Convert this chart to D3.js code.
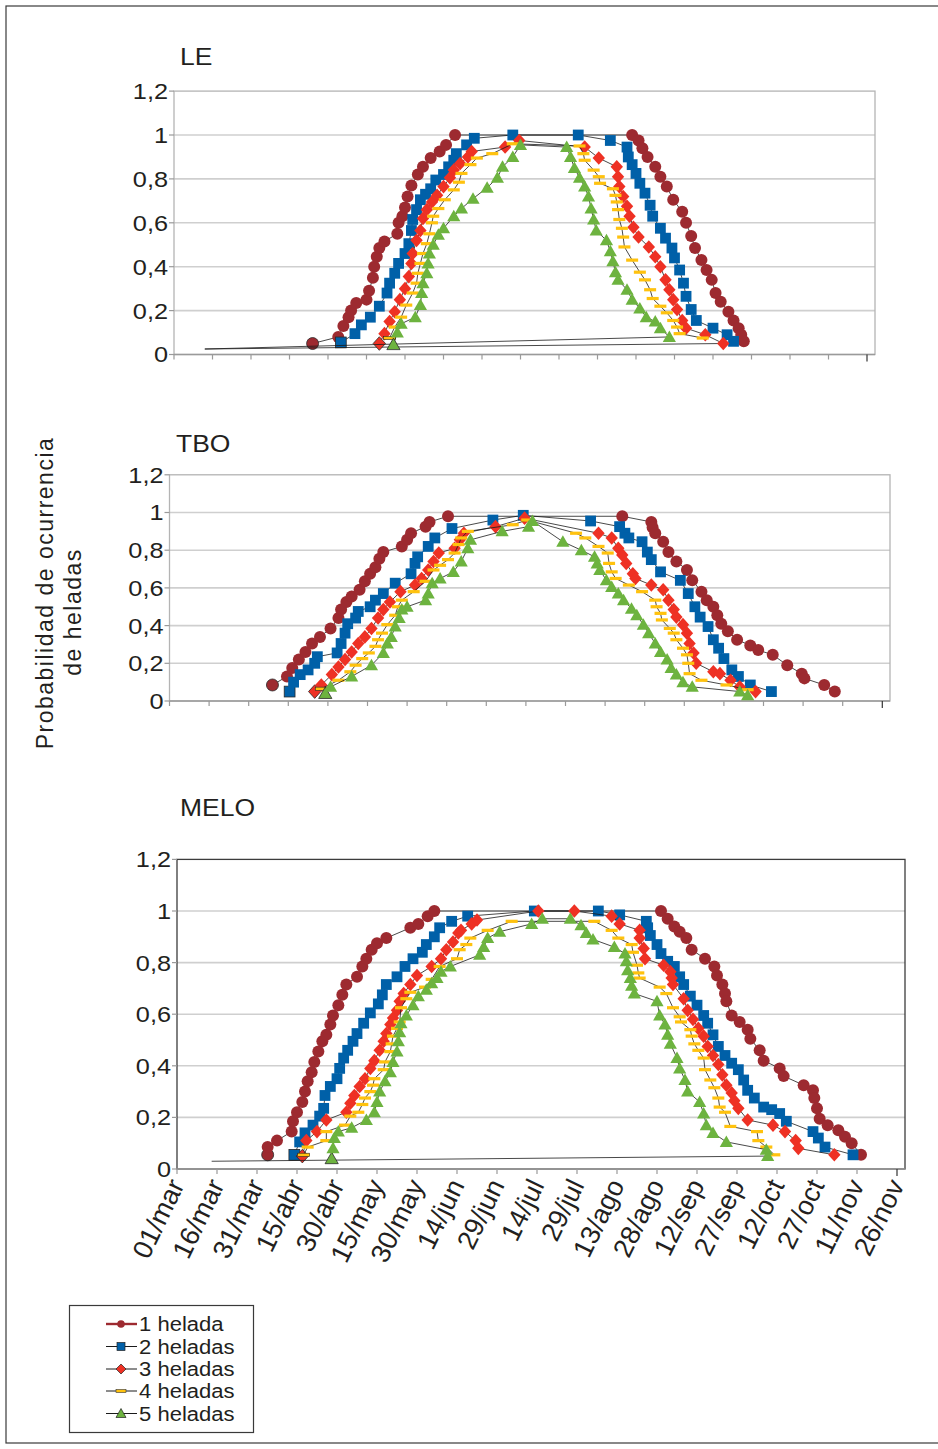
<!DOCTYPE html>
<html><head><meta charset="utf-8">
<script src="https://cdn.jsdelivr.net/npm/d3@7"></script>
<style>
body{margin:0;background:#fff}
svg{display:block}
text{font-family:"Liberation Sans",Arial,Helvetica,sans-serif;fill:#231f20}
</style>
</head><body>
<svg id="c" width="938" height="1449"></svg>
<script>
// ---------- DATA (x = days since 01/mar, y = probability) ----------
const seriesNames = ["1 helada","2 heladas","3 heladas","4 heladas","5 heladas"];
const xTickLabels = ["01/mar","16/mar","31/mar","15/abr","30/abr","15/may","30/may","14/jun","29/jun","14/jul","29/jul","13/ago","28/ago","12/sep","27/sep","12/oct","27/oct","11/nov","26/nov"];
const xTickDays = [0,15,30,45,60,75,90,105,120,135,150,165,180,195,210,225,240,255,270];
const yTickValues = [0,0.2,0.4,0.6,0.8,1,1.2];
const yTickLabels = ["0","0,2","0,4","0,6","0,8","1","1,2"];
const panelTitles = ["LE","TBO","MELO"];

// LE
const le1 = [[54,0.05],[64,0.08],[66,0.13],[68,0.17],[69,0.2],[71,0.235],[75,0.25],[76,0.29],[77.5,0.35],[78,0.4],[79,0.445],[80,0.485],[82,0.515],[87,0.55],[87.5,0.6],[89,0.63],[90,0.67],[91,0.72],[92.5,0.77],[95,0.82],[97,0.855],[100,0.895],[103.5,0.925],[106,0.955],[109.5,1.0],
  [178.5,1.0],[181,0.975],[182.5,0.94],[184.5,0.9],[187.5,0.855],[189.5,0.81],[192,0.765],[194.5,0.705],[198,0.65],[199.5,0.6],[201.5,0.54],[203,0.485],[205.5,0.43],[207.5,0.385],[209.5,0.34],[211,0.28],[213,0.24],[216,0.195],[218,0.155],[220,0.12],[221,0.09],[222,0.06]];
const le2 = [[65,0.055],[70.5,0.095],[73,0.135],[76.5,0.17],[80,0.22],[83,0.28],[84,0.325],[86,0.37],[87.5,0.415],[90,0.46],[91.5,0.505],[92.5,0.565],[93,0.615],[94.5,0.66],[96,0.705],[98,0.73],[100,0.755],[102,0.795],[105,0.82],[107,0.855],[109,0.885],[110,0.915],[114,0.955],[117,0.985],[132,1.0],
  [157.5,1.0],[170,0.975],[176.5,0.945],[177,0.9],[178.5,0.865],[180,0.825],[181.5,0.78],[183.5,0.735],[185.5,0.68],[186.5,0.63],[189.5,0.575],[191.5,0.53],[194,0.485],[195,0.44],[197,0.385],[198.5,0.325],[199.5,0.265],[201.5,0.205],[203.5,0.155],[210,0.12],[215.5,0.09],[218,0.06]];
const le3 = [[80,0.05],[82,0.095],[84,0.15],[86,0.195],[88,0.25],[90,0.3],[91.5,0.355],[92.5,0.415],[93,0.46],[94.5,0.52],[96,0.565],[97,0.62],[98.5,0.66],[100.5,0.695],[102.5,0.725],[105,0.765],[107.5,0.805],[109,0.84],[111.5,0.87],[114.5,0.9],[116,0.925],[129,0.945],[134.5,0.975],
  [160,0.945],[165.5,0.895],[172.5,0.855],[173,0.81],[173.5,0.765],[175,0.72],[176.5,0.675],[177.5,0.63],[179,0.58],[181,0.535],[185,0.49],[187.5,0.445],[189.5,0.4],[191.5,0.34],[193,0.295],[194.5,0.25],[196,0.205],[198,0.155],[199.5,0.12],[207,0.09],[214,0.05]];
const le4 = [[84,0.075],[86,0.125],[88.5,0.17],[90.5,0.225],[93,0.28],[94.5,0.325],[95,0.37],[96,0.415],[97,0.46],[98.5,0.505],[99.5,0.55],[100.5,0.6],[101,0.63],[103,0.665],[105.5,0.705],[109,0.75],[111,0.785],[112,0.825],[115.5,0.865],[118,0.895],[124,0.915],[132,0.96],
  [158,0.95],[159.5,0.915],[160,0.885],[163.5,0.84],[165.5,0.81],[166,0.78],[171,0.755],[172,0.725],[172.5,0.695],[173,0.66],[173.5,0.615],[174.5,0.575],[175,0.535],[175.5,0.49],[178.5,0.43],[181.5,0.375],[183.5,0.34],[185.5,0.295],[186.5,0.255],[189.5,0.22],[192,0.19],[194.5,0.155],[196,0.125],[197,0.095],[206,0.075]];
const le5 = [[85.5,0.045],[87,0.1],[88.5,0.14],[94,0.17],[96,0.225],[96.5,0.28],[97,0.325],[98.5,0.37],[99,0.415],[99.5,0.46],[101,0.5],[103,0.545],[105,0.575],[109,0.63],[112,0.665],[116.5,0.71],[122,0.76],[126,0.805],[128,0.855],[132,0.9],[135,0.955],
  [153,0.945],[154.5,0.9],[156,0.85],[158,0.805],[160,0.765],[161.5,0.72],[162.5,0.665],[163.5,0.615],[164.5,0.565],[168.5,0.52],[170,0.47],[171,0.425],[172,0.375],[173,0.34],[176.5,0.295],[178.5,0.25],[181.5,0.21],[184,0.17],[187.5,0.15],[189.5,0.12],[193,0.08]];
const leAnchor = [12,0.025];

// TBO
const tbo1 = [[39,0.085],[44.5,0.13],[46.5,0.175],[49,0.22],[51.5,0.26],[54,0.305],[57,0.34],[61,0.385],[64,0.44],[65,0.485],[67,0.525],[69,0.555],[72,0.59],[74,0.635],[76,0.675],[78,0.71],[79.5,0.755],[81,0.79],[88,0.82],[90,0.855],[91.5,0.89],[97,0.925],[98.5,0.95],[105.5,0.98],
  [171.5,0.98],[182.5,0.95],[183,0.92],[184,0.89],[187,0.845],[189,0.79],[192,0.74],[196,0.695],[198,0.64],[201.5,0.58],[203.5,0.535],[206,0.5],[207.5,0.455],[209,0.41],[211.5,0.37],[215,0.325],[220,0.295],[223,0.27],[228.5,0.245],[234,0.19],[239.5,0.145],[240.5,0.12],[248,0.085],[252,0.05]];
const tbo2 = [[45.5,0.05],[47,0.1],[49.5,0.14],[52.5,0.165],[55,0.2],[56,0.235],[63.5,0.255],[65,0.305],[66.5,0.36],[67.5,0.41],[70.5,0.44],[71.5,0.475],[76,0.5],[78,0.535],[81,0.57],[85.5,0.625],[91.5,0.675],[93,0.73],[94,0.765],[98,0.82],[100.5,0.865],[107,0.915],[122.5,0.96],[134,0.985],
  [159.5,0.955],[170.5,0.925],[172.5,0.89],[174,0.865],[179,0.845],[181,0.79],[182.5,0.75],[186,0.685],[193.5,0.64],[196.5,0.57],[199,0.5],[201,0.445],[204,0.395],[206,0.325],[208,0.28],[210,0.225],[213,0.165],[215.5,0.13],[220,0.085],[228,0.05]];
const tbo3 = [[55,0.05],[57.5,0.085],[61.5,0.14],[64,0.18],[66.5,0.22],[69,0.26],[71.5,0.305],[74,0.34],[76.5,0.385],[79,0.44],[81,0.485],[83.5,0.525],[87.5,0.58],[93,0.615],[95.5,0.65],[98,0.695],[100,0.74],[102,0.785],[108,0.81],[110,0.855],[111.5,0.89],[123.5,0.925],[134.5,0.97],
  [162.5,0.89],[167.5,0.865],[170,0.81],[171.5,0.775],[173,0.73],[175.5,0.675],[176.5,0.65],[182.5,0.615],[187,0.59],[189,0.535],[191,0.485],[192,0.445],[194.5,0.405],[196,0.36],[197,0.305],[198.5,0.255],[199.5,0.2],[206,0.155],[208.5,0.145],[212.5,0.11],[216,0.075],[222,0.05]];
const tbo4 = [[57.5,0.065],[64,0.11],[68.5,0.155],[70.5,0.19],[73,0.225],[75.5,0.255],[78,0.29],[79,0.325],[80.5,0.36],[82.5,0.405],[85.5,0.455],[86.5,0.5],[88,0.535],[92.5,0.58],[97,0.635],[100,0.695],[102.5,0.72],[105.5,0.75],[108,0.785],[109.5,0.83],[110.5,0.865],[113,0.9],[130,0.935],[135.5,0.96],
  [154,0.89],[157.5,0.865],[162.5,0.82],[166,0.785],[166.5,0.73],[167.5,0.685],[169,0.65],[174,0.615],[179,0.58],[184,0.535],[184.5,0.5],[186,0.465],[186.5,0.43],[189.5,0.385],[191,0.36],[192,0.325],[194.5,0.28],[196,0.245],[196.5,0.2],[197,0.145],[201.5,0.11],[211,0.085],[219,0.06]];
const tbo5 = [[59,0.04],[61,0.075],[69,0.13],[76.5,0.19],[81,0.255],[82.5,0.305],[84,0.34],[85.5,0.395],[87,0.44],[88,0.485],[90,0.5],[97,0.535],[98,0.57],[99.5,0.625],[102.5,0.65],[107.5,0.685],[110.5,0.74],[113,0.81],[114,0.855],[126,0.9],[136,0.925],[137.5,0.955],
  [149,0.845],[156,0.8],[161,0.765],[162,0.73],[163,0.695],[165.5,0.64],[167.5,0.605],[170,0.57],[172,0.535],[175,0.49],[177,0.455],[179.5,0.405],[181.5,0.36],[184,0.305],[186,0.26],[188.5,0.22],[190,0.175],[192,0.14],[194.5,0.1],[198,0.075],[216,0.05],[219,0.03]];

// MELO
const melo1 = [[34,0.055],[34,0.085],[37.5,0.11],[43,0.145],[43.5,0.185],[45,0.22],[47,0.26],[48,0.3],[49,0.34],[50.5,0.375],[51.5,0.415],[53,0.455],[54.5,0.495],[56,0.52],[57.5,0.56],[58.5,0.595],[60.5,0.635],[62,0.675],[63.5,0.715],[67.5,0.745],[69.5,0.785],[71,0.815],[73,0.85],[75,0.875],[78.5,0.895],[87.5,0.935],[90.5,0.95],[94,0.98],[96.5,1.0],
  [181.5,1.0],[184,0.97],[186.5,0.94],[188.5,0.92],[191,0.895],[193,0.85],[198,0.815],[201.5,0.785],[202.5,0.75],[204.5,0.715],[205.5,0.68],[206,0.65],[208,0.595],[211,0.57],[214,0.54],[215,0.505],[218.5,0.46],[220,0.42],[226,0.39],[227.5,0.36],[235,0.325],[238.5,0.305],[239,0.275],[240,0.235],[241,0.195],[244,0.17],[248,0.15],[250.5,0.125],[253,0.1],[256.5,0.055]];
const melo2 = [[44,0.055],[46,0.105],[48,0.14],[51,0.17],[53.5,0.205],[55,0.235],[55.5,0.285],[57.5,0.32],[60,0.35],[61,0.39],[62.5,0.43],[64,0.46],[66,0.495],[67.5,0.525],[70,0.565],[72.5,0.605],[75.5,0.64],[77,0.675],[78.5,0.715],[82.5,0.745],[85.5,0.785],[88.5,0.815],[92,0.84],[93.5,0.87],[96.5,0.9],[98.5,0.935],[103,0.96],[109,0.98],[134,1.0],
  [158,1.0],[166,0.985],[176,0.96],[176.5,0.935],[177.5,0.905],[180,0.87],[181.5,0.835],[184,0.805],[186.5,0.785],[188.5,0.745],[190,0.715],[192.5,0.67],[195,0.635],[197.5,0.595],[199,0.565],[201,0.52],[203,0.475],[205.5,0.44],[208,0.41],[210.5,0.385],[212.5,0.345],[214,0.305],[216.5,0.275],[220,0.24],[223,0.23],[226,0.215],[228.5,0.185],[238.5,0.145],[240.5,0.12],[243,0.085],[253.5,0.055]];
const melo3 = [[47,0.05],[48.5,0.11],[52.5,0.145],[56,0.19],[63.5,0.22],[65,0.255],[66.5,0.285],[68.5,0.32],[70.5,0.35],[72.5,0.39],[74,0.42],[76,0.46],[77.5,0.495],[78.5,0.525],[80,0.56],[81,0.585],[82.5,0.615],[83.5,0.65],[85,0.68],[87.5,0.715],[90,0.75],[95.5,0.785],[99,0.815],[101,0.85],[103.5,0.88],[105.5,0.915],[106.5,0.925],[110.5,0.95],[112.5,0.965],[135.5,1.0],
  [149,1.0],[163,0.98],[166,0.95],[173.5,0.925],[173.5,0.895],[175,0.855],[175.5,0.815],[182.5,0.79],[185,0.765],[185.5,0.74],[186,0.715],[190,0.66],[191.5,0.615],[193.5,0.58],[195.5,0.545],[197.5,0.515],[199,0.475],[201,0.44],[203,0.405],[204.5,0.365],[206,0.325],[208,0.295],[209,0.265],[210.5,0.235],[214,0.19],[223.5,0.17],[228,0.145],[232,0.11],[233,0.08],[246.5,0.055]];
const melo4 = [[47.5,0.055],[49,0.085],[56,0.11],[56,0.145],[63,0.17],[65,0.205],[68,0.22],[69.5,0.25],[70.5,0.275],[72.5,0.3],[73.5,0.325],[74,0.35],[77.5,0.385],[78,0.415],[80,0.455],[80.5,0.485],[81,0.515],[82.5,0.545],[83.5,0.57],[84,0.625],[86,0.66],[87.5,0.685],[93,0.705],[95.5,0.735],[98.5,0.785],[105,0.815],[106,0.85],[108.5,0.87],[110,0.895],[116.5,0.925],[125.5,0.96],
  [156.5,0.96],[163,0.925],[165.5,0.895],[170.5,0.87],[171,0.84],[172.5,0.79],[173,0.76],[173.5,0.74],[181,0.705],[183.5,0.68],[186,0.625],[188.5,0.59],[189,0.57],[192.5,0.54],[193,0.515],[194,0.485],[195.5,0.46],[197.5,0.43],[198,0.385],[200,0.345],[201.5,0.315],[203,0.275],[203.5,0.24],[205.5,0.22],[207.5,0.165],[217.5,0.145],[218,0.11],[221,0.085],[224,0.055]];
const melo5 = [[58,0.04],[58.5,0.08],[59,0.12],[60.5,0.145],[65.5,0.16],[71,0.19],[74,0.22],[75,0.26],[76,0.3],[78,0.34],[80,0.375],[81,0.415],[82.5,0.455],[83,0.495],[83.5,0.53],[84,0.565],[86,0.595],[88.5,0.635],[90.5,0.67],[93.5,0.695],[95.5,0.72],[97.5,0.74],[99,0.765],[102.5,0.785],[113.5,0.83],[115,0.86],[116.5,0.895],[121,0.92],[133,0.95],[137,0.97],
  [147.5,0.97],[151.5,0.945],[153.5,0.915],[156,0.89],[164,0.86],[168,0.835],[168.5,0.805],[169,0.77],[170,0.74],[170.5,0.71],[171.5,0.68],[180,0.65],[181,0.595],[183,0.56],[184,0.52],[185,0.485],[187.5,0.43],[188.5,0.39],[190.5,0.345],[191.5,0.3],[196,0.26],[197.5,0.215],[198.5,0.17],[201,0.14],[206,0.105],[221,0.075],[221.5,0.05]];
const meloAnchor = [13,0.03];

// ---------- DRAWING ----------
const colors = ["#9d2a30","#0060a8","#ee3124","#ffc20e","#6db33f"];
const svg = d3.select("#c");
const W = 938, H = 1449;

function widen(sel, f) {
  sel.each(function(){
    const len = this.getComputedTextLength();
    d3.select(this).attr("textLength", len*f).attr("lengthAdjust","spacingAndGlyphs");
  });
}

svg.append("rect").attr("x",6).attr("y",6).attr("width",W+20).attr("height",H-12)
  .attr("fill","none").attr("stroke","#3a3a3a").attr("stroke-width",1.2);

function marker(g, k, px, py, first) {
  const c = colors[k];
  const st = first ? "#2a2a2a" : "none";
  if (k===0) {
    g.append("circle").attr("cx",px).attr("cy",py).attr("r",6).attr("fill",c).attr("stroke",st).attr("stroke-width",0.8);
  } else if (k===1) {
    g.append("rect").attr("x",px-5.4).attr("y",py-5.4).attr("width",10.8).attr("height",10.8).attr("fill",c).attr("stroke",st).attr("stroke-width",0.8);
  } else if (k===2) {
    g.append("path").attr("d",`M${px},${py-6.8}L${px+6.2},${py}L${px},${py+6.8}L${px-6.2},${py}Z`).attr("fill",c).attr("stroke",st).attr("stroke-width",0.8);
  } else if (k===3) {
    g.append("rect").attr("x",px-6).attr("y",py-1.6).attr("width",12).attr("height",3.2).attr("fill",c).attr("stroke",first?"#2a2a2a":"none").attr("stroke-width",0.6);
  } else {
    g.append("path").attr("d",`M${px},${py-6.5}L${px+6.6},${py+5}L${px-6.6},${py+5}Z`).attr("fill",c).attr("stroke",st).attr("stroke-width",0.8);
  }
}

const panels = [
  {title:"LE", tx:180, ty:65, x0:174, x1:867, fr:875, y0:354.5, yTop:91.1, frameColor:"#b4b4b4", series:[le1,le2,le3,le4,le5], anchor:leAnchor, anchorSeries:[2,4], labels:false},
  {title:"TBO", tx:176, ty:452, x0:169.5, x1:882.3, fr:890, y0:701, yTop:474.8, frameColor:"#b4b4b4", series:[tbo1,tbo2,tbo3,tbo4,tbo5], anchor:null, anchorSeries:[], labels:false},
  {title:"MELO", tx:180, ty:816, x0:177, x1:897, fr:905, y0:1169, yTop:859.4, frameColor:"#3c3c3c", series:[melo1,melo2,melo3,melo4,melo5], anchor:meloAnchor, anchorSeries:[4], labels:true}
];

panels.forEach(P => {
  const x = d3.scaleLinear().domain([0,270]).range([P.x0,P.x1]);
  const y = d3.scaleLinear().domain([0,1.2]).range([P.y0,P.yTop]);
  const g = svg.append("g");
  // gridlines
  g.selectAll("line.grid").data(yTickValues.filter(v=>v>0 && v<1.2)).join("line")
    .attr("x1",P.x0).attr("x2",P.fr).attr("y1",d=>y(d)).attr("y2",d=>y(d))
    .attr("stroke","#cfcfcf").attr("stroke-width",1.6);
  // frame
  g.append("rect").attr("x",P.x0).attr("y",y(1.2)).attr("width",P.fr-P.x0).attr("height",P.y0-y(1.2))
    .attr("fill","none").attr("stroke",P.frameColor).attr("stroke-width",1.3);
  // y ticks
  g.selectAll("line.yt").data(yTickValues).join("line")
    .attr("x1",P.x0-5).attr("x2",P.x0).attr("y1",d=>y(d)).attr("y2",d=>y(d))
    .attr("stroke","#9a9a9a").attr("stroke-width",1.2);
  const yl = g.selectAll("text.yl").data(yTickValues).join("text")
    .attr("x",P.x0-6).attr("y",d=>y(d)).attr("dy","0.36em").attr("text-anchor","end")
    .attr("font-size",22).text((d,i)=>yTickLabels[i]);
  widen(yl,1.15);
  // x axis
  g.append("line").attr("x1",P.x0).attr("x2",P.fr).attr("y1",P.y0).attr("y2",P.y0).attr("stroke","#9a9a9a").attr("stroke-width",1.3);
  g.selectAll("line.xt").data(xTickDays).join("line")
    .attr("x1",d=>x(d)).attr("x2",d=>x(d)).attr("y1",P.y0).attr("y2",(d,i)=>P.y0+(i===xTickDays.length-1?7:5))
    .attr("stroke",(d,i)=>i===xTickDays.length-1?"#333":"#9a9a9a").attr("stroke-width",1.2);
  if (P.labels) {
    g.selectAll("text.xl").data(xTickDays).join("text")
      .attr("transform",d=>`translate(${x(d)+8},${P.y0+16}) rotate(-64)`)
      .attr("text-anchor","end").attr("font-size",27).text((d,i)=>xTickLabels[i]);
  }
  // title
  const t = g.append("text").attr("x",P.tx).attr("y",P.ty).attr("font-size",23).text(P.title);
  widen(t,1.15);
  // series
  const line = d3.line().x(d=>x(d[0])).y(d=>y(d[1]));
  P.series.forEach((s,k) => {
    const pts = P.anchorSeries.includes(k) ? s.concat([P.anchor]) : s;
    g.append("path").attr("d",line(pts)).attr("fill","none").attr("stroke","#1a1a1a").attr("stroke-width",0.8);
    const mg = g.append("g");
    s.forEach((d,i)=> marker(mg,k,x(d[0]),y(d[1]), i===0));
  });
});

// y axis title
svg.append("text").attr("transform","translate(45,593) rotate(-90)").attr("text-anchor","middle")
  .attr("dominant-baseline","central").attr("font-size",23).attr("letter-spacing",1.5).text("Probabilidad de ocurrencia");
svg.append("text").attr("transform","translate(73,612) rotate(-90)").attr("text-anchor","middle")
  .attr("dominant-baseline","central").attr("font-size",23).attr("letter-spacing",1.5).text("de heladas");

// legend
const lg = svg.append("g");
lg.append("rect").attr("x",69.5).attr("y",1305.5).attr("width",184).attr("height",127).attr("fill","#fff").attr("stroke","#3a3a3a").attr("stroke-width",1.2);
const legY = [1324,1346.5,1369,1391,1413.5];
seriesNames.forEach((nm,k)=>{
  const yy = legY[k];
  lg.append("line").attr("x1",106).attr("x2",137).attr("y1",yy).attr("y2",yy)
    .attr("stroke",k===0?colors[0]:"#1a1a1a").attr("stroke-width",k===0?2.4:1);
  if (k===0) lg.append("circle").attr("cx",121).attr("cy",yy).attr("r",3.8).attr("fill",colors[0]);
  else if (k===1) lg.append("rect").attr("x",117).attr("y",yy-4).attr("width",8).attr("height",8).attr("fill",colors[1]).attr("stroke","#222").attr("stroke-width",0.7);
  else if (k===2) lg.append("path").attr("d",`M121,${yy-5}L126,${yy}L121,${yy+5}L116,${yy}Z`).attr("fill",colors[2]).attr("stroke","#222").attr("stroke-width",0.7);
  else if (k===3) lg.append("rect").attr("x",116).attr("y",yy-1.5).attr("width",10).attr("height",3).attr("fill",colors[3]).attr("stroke","#333").attr("stroke-width",0.6);
  else lg.append("path").attr("d",`M121,${yy-5}L126,${yy+4}L116,${yy+4}Z`).attr("fill",colors[4]).attr("stroke","#222").attr("stroke-width",0.7);
  const tx = lg.append("text").attr("x",139).attr("y",yy).attr("dy","0.36em").attr("font-size",19.5).text(nm);
  widen(tx,1.13);
});
</script>
</body></html>
